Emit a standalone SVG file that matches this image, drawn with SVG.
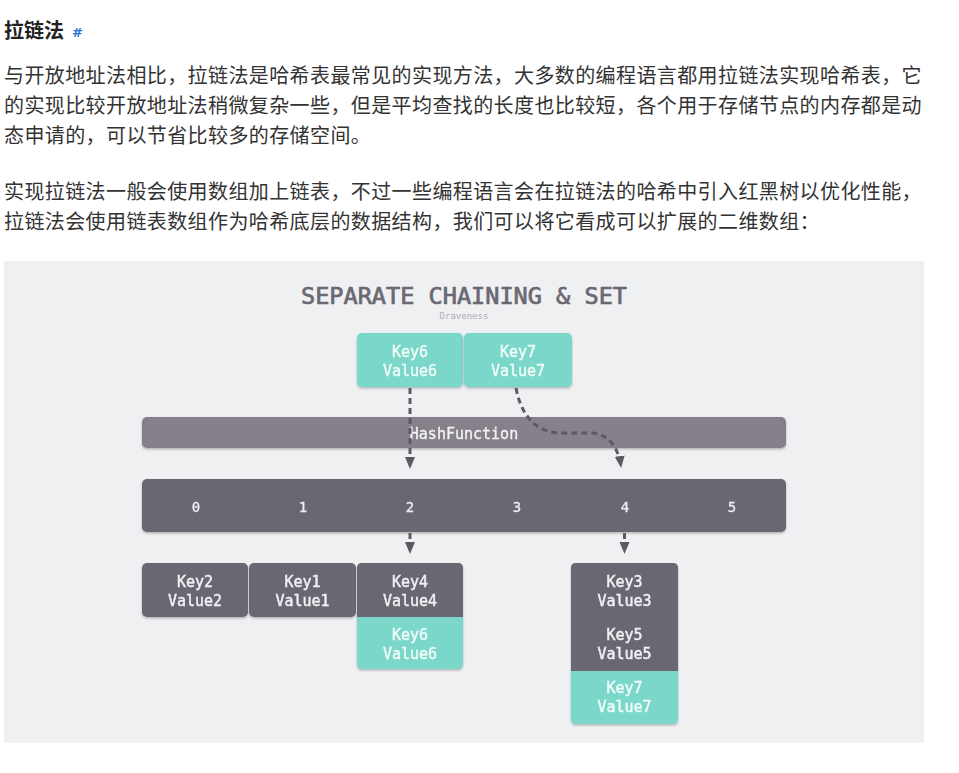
<svg xmlns="http://www.w3.org/2000/svg" width="959" height="773" viewBox="0 0 959 773">
<defs>
<style>
.cjk{font-family:"Noto Sans CJK SC","Noto Sans",sans-serif;font-size:20px;fill:#333;letter-spacing:0.4px}
.h{font-family:"Noto Sans CJK SC","Noto Sans",sans-serif;font-size:20px;font-weight:bold;fill:#222}
.mono{font-family:"DejaVu Sans Mono","Liberation Mono",monospace;text-anchor:middle}
.kv{font-size:15px;fill:#f1f1f3;stroke:#f1f1f3;stroke-width:0.45px}
.kvt{font-size:15px;fill:#f0fbf8;stroke:#f0fbf8;stroke-width:0.45px}
.idx{font-size:14px;fill:#eeeef0;stroke:#eeeef0;stroke-width:0.3px}
.dark{fill:#6a6672}
.teal{fill:#7ad7ca}
.conn{fill:none;stroke:#5d5a64;stroke-width:3;stroke-dasharray:6 4}
</style>
<filter id="sh" x="-10%" y="-10%" width="120%" height="130%">
<feDropShadow dx="0" dy="1.5" stdDeviation="1" flood-color="#000" flood-opacity="0.25"/>
</filter>
<marker id="ah" markerUnits="userSpaceOnUse" markerWidth="12" markerHeight="12" viewBox="0 0 12 12" refX="11" refY="6" orient="auto">
<path d="M0,1 L12,6 L0,11 Z" fill="#5d5a64"/>
</marker>
</defs>
<rect width="959" height="773" fill="#ffffff"/>
<text class="h" x="4" y="38">拉链法</text>
<text x="72" y="37" font-family="DejaVu Sans, sans-serif" font-size="13" font-weight="bold" fill="#2f6fd0">#</text>
<text class="cjk" x="4" y="83">与开放地址法相比，拉链法是哈希表最常见的实现方法，大多数的编程语言都用拉链法实现哈希表，它</text>
<text class="cjk" x="4" y="113">的实现比较开放地址法稍微复杂一些，但是平均查找的长度也比较短，各个用于存储节点的内存都是动</text>
<text class="cjk" x="4" y="143">态申请的，可以节省比较多的存储空间。</text>
<text class="cjk" x="4" y="199">实现拉链法一般会使用数组加上链表，不过一些编程语言会在拉链法的哈希中引入红黑树以优化性能，</text>
<text class="cjk" x="4" y="229">拉链法会使用链表数组作为哈希底层的数据结构，我们可以将它看成可以扩展的二维数组：</text>

<rect x="4" y="261" width="920" height="482" fill="#eef0f2"/>
<text class="mono" x="464" y="304" font-size="23" fill="#6b6873" stroke="#6b6873" stroke-width="0.7" textLength="326" lengthAdjust="spacingAndGlyphs">SEPARATE CHAINING &amp; SET</text>
<text class="mono" x="464" y="319" font-size="9" fill="#aeacb4">Draveness</text>

<g id="key6-top" filter="url(#sh)">
<rect class="teal" x="357" y="333" width="106" height="54" rx="5"/>
<text class="mono kvt" x="410" y="357">Key6</text>
<text class="mono kvt" x="410" y="376">Value6</text>
</g>
<g id="key7-top" filter="url(#sh)">
<rect class="teal" x="464" y="333" width="108" height="54" rx="5"/>
<text class="mono kvt" x="518" y="357">Key7</text>
<text class="mono kvt" x="518" y="376">Value7</text>
</g>

<g id="hashfunction" filter="url(#sh)">
<rect x="142" y="417" width="644" height="31" rx="5" fill="#858089"/>
<text class="mono" x="464" y="439" font-size="15" fill="#f3f3f5" stroke="#f3f3f5" stroke-width="0.3">HashFunction</text>
</g>

<g id="buckets" filter="url(#sh)">
<rect class="dark" x="142" y="479" width="644" height="53" rx="5"/>
<text class="mono idx" x="196" y="512">0</text>
<text class="mono idx" x="303" y="512">1</text>
<text class="mono idx" x="410" y="512">2</text>
<text class="mono idx" x="517" y="512">3</text>
<text class="mono idx" x="625" y="512">4</text>
<text class="mono idx" x="732" y="512">5</text>
</g>

<g id="key2" filter="url(#sh)">
<rect class="dark" x="142" y="563" width="106" height="54" rx="5"/>
<text class="mono kv" x="195" y="587">Key2</text>
<text class="mono kv" x="195" y="606">Value2</text>
</g>
<g id="key1" filter="url(#sh)">
<rect class="dark" x="249" y="563" width="107" height="54" rx="5"/>
<text class="mono kv" x="302.5" y="587">Key1</text>
<text class="mono kv" x="302.5" y="606">Value1</text>
</g>
<g id="bucket2-chain" filter="url(#sh)">
<path class="dark" d="M357,617 L357,568 Q357,563 362,563 L458,563 Q463,563 463,568 L463,617 Z"/>
<path class="teal" d="M357,617 L463,617 L463,664 Q463,669 458,669 L362,669 Q357,669 357,664 Z"/>
<text class="mono kv" x="410" y="587">Key4</text>
<text class="mono kv" x="410" y="606">Value4</text>
<text class="mono kvt" x="410" y="640">Key6</text>
<text class="mono kvt" x="410" y="659">Value6</text>
</g>
<g id="bucket4-chain" filter="url(#sh)">
<path class="dark" d="M571,671 L571,568 Q571,563 576,563 L673,563 Q678,563 678,568 L678,671 Z"/>
<path class="teal" d="M571,671 L678,671 L678,719 Q678,724 673,724 L576,724 Q571,724 571,719 Z"/>
<text class="mono kv" x="624.5" y="587">Key3</text>
<text class="mono kv" x="624.5" y="606">Value3</text>
<text class="mono kv" x="624.5" y="640">Key5</text>
<text class="mono kv" x="624.5" y="659">Value5</text>
<text class="mono kvt" x="624.5" y="693">Key7</text>
<text class="mono kvt" x="624.5" y="712">Value7</text>
</g>

<g id="connectors">
<path class="conn" d="M410,388 L410,468" marker-end="url(#ah)"/>
<path class="conn" d="M516,388 C520,410 532,433 562,433 L590,433 C610,433 619,450 621,467" marker-end="url(#ah)"/>
<path class="conn" d="M410,533 L410,553" marker-end="url(#ah)"/>
<path class="conn" d="M624.5,533 L624.5,553" marker-end="url(#ah)"/>
</g>
</svg>
